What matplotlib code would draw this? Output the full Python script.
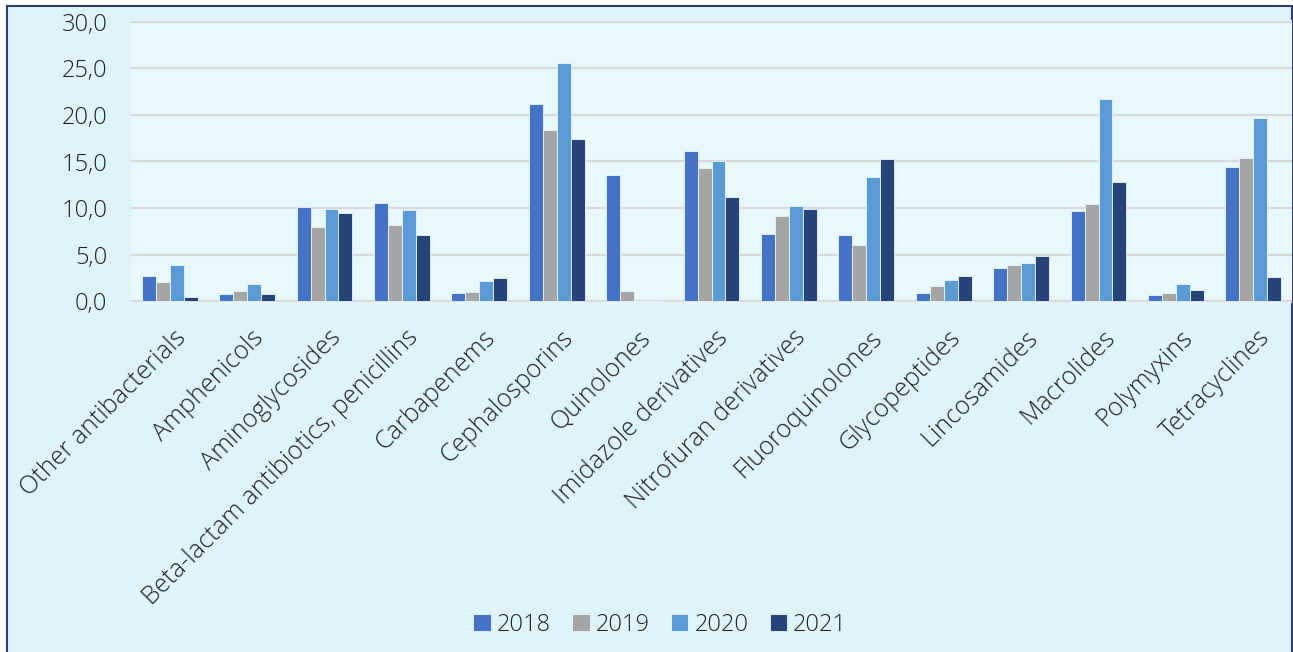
import numpy as np
import matplotlib.pyplot as plt
from matplotlib.patches import Rectangle

categories = ["Other antibacterials", "Amphenicols", "Aminoglycosides",
              "Beta-lactam antibiotics, penicillins", "Carbapenems",
              "Cephalosporins", "Quinolones", "Imidazole derivatives",
              "Nitrofuran derivatives", "Fluoroquinolones", "Glycopeptides",
              "Lincosamides", "Macrolides", "Polymyxins", "Tetracyclines"]
years = ["2018", "2019", "2020", "2021"]
v2018 = [2.7, 0.7, 10.1, 10.5, 0.9, 21.2, 13.5, 16.1, 7.2, 7.1, 0.9, 3.6, 9.7, 0.6, 14.4]
v2019 = [2.0, 1.1, 8.0, 8.2, 1.0, 18.4, 1.1, 14.3, 9.1, 6.0, 1.6, 3.9, 10.4, 0.9, 15.4]
v2020 = [3.9, 1.8, 9.9, 9.8, 2.1, 25.6, 0.0, 15.0, 10.2, 13.3, 2.3, 4.1, 21.7, 1.8, 19.7]
v2021 = [0.4, 0.8, 9.5, 7.1, 2.5, 17.4, 0.0, 11.2, 9.9, 15.3, 2.7, 4.8, 12.8, 1.2, 2.6]
colors = ["#4472C4", "#A5A5A5", "#5B9BD5", "#264478"]

plt.rcParams['font.family'] = ['Open Sans', 'DejaVu Sans']
plt.rcParams['font.weight'] = 'light'

W, H = 1293, 652
fig = plt.figure(figsize=(W / 100, H / 100), dpi=100)
fig.patch.set_facecolor("white")
# outer chart area with border (bottom edge runs off the image)
fig.patches.append(Rectangle((7 / W, -0.05), (1292 - 7) / W, (H - 6) / H + 0.05,
                             transform=fig.transFigure, facecolor="#DFF4F9",
                             edgecolor="#2E3F6E", linewidth=1.5, zorder=-1))

ax = fig.add_axes([131 / W, (H - 303) / H, (1292 - 131) / W, 283 / H])
ax.set_zorder(2)
ax.set_facecolor("#E9F8FB")

x = np.arange(len(categories))
w = 0.18
series = [v2018, v2019, v2020, v2021]
for i, (yr, vals, c) in enumerate(zip(years, series, colors)):
    ax.bar(x + (i - 1.5) * w, vals, w, color=c, label=yr,
           edgecolor="#EAF6FB", linewidth=0.6, zorder=3)

ax.set_xlim(-0.5, len(categories) - 0.5)
ax.set_ylim(-0.215, 30.215)
ax.set_yticks(np.arange(0, 31, 5))
ax.set_yticklabels([f"{v:.1f}".replace(".", ",") for v in np.arange(0, 31, 5)],
                   fontsize=17, color="#222222")
ax.yaxis.grid(True, color="#D9D9D9", linewidth=1.6, zorder=0)
ax.set_axisbelow(True)
for s in ax.spines.values():
    s.set_visible(False)
ax.tick_params(axis="both", length=0)
ax.tick_params(axis="y", pad=17)

ax.set_xticks(x + 0.05)
ax.set_xticklabels(categories, rotation=45, ha="right", va="top",
                   rotation_mode="anchor", fontsize=18, color="#222222")
ax.tick_params(axis="x", pad=16)

leg = fig.legend(loc="center", bbox_to_anchor=(660 / W, (H - 625) / H), ncol=4,
                 frameon=False, fontsize=17, handlelength=0.75, handleheight=0.75,
                 handletextpad=0.25, columnspacing=0.9)
for t in leg.get_texts():
    t.set_color("#222222")

fig.savefig("out.png", dpi=100, facecolor=fig.get_facecolor())
